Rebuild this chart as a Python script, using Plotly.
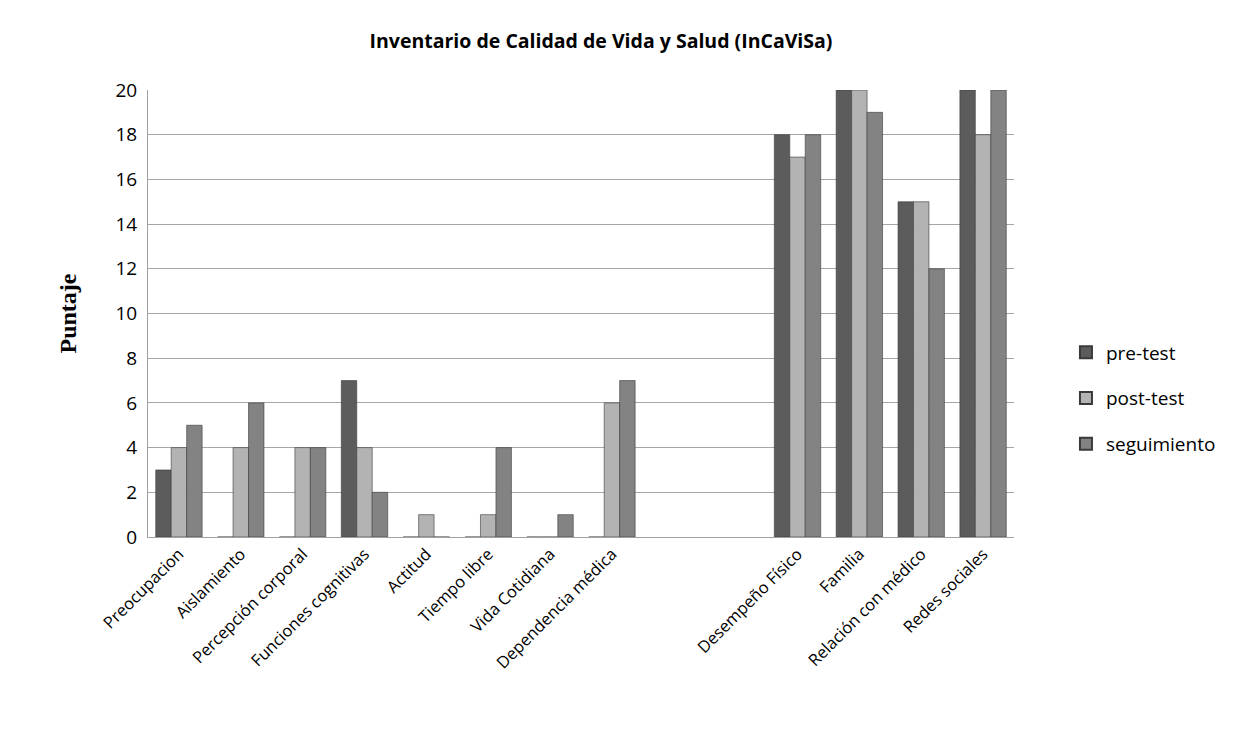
import plotly.graph_objects as go

categories = ["Preocupacion", "Aislamiento", "Percepción corporal", "Funciones cognitivas",
              "Actitud", "Tiempo libre", "Vida Cotidiana", "Dependencia médica",
              " ", "  ",
              "Desempeño Físico", "Familia", "Relación con médico", "Redes sociales"]
pre_test = [3, 0, 0, 7, 0, 0, 0, 0, None, None, 18, 20, 15, 20]
post_test = [4, 4, 4, 4, 1, 1, 0, 6, None, None, 17, 20, 15, 18]
seguimiento = [5, 6, 4, 2, 0, 4, 1, 7, None, None, 18, 19, 12, 20]
series_names = ["pre-test", "post-test", "seguimiento"]
colors = ["#5c5c5c", "#b3b3b3", "#838383"]
y_ticks = list(range(0, 21, 2))

fig = go.Figure()
for name, vals, col in zip(series_names, [pre_test, post_test, seguimiento], colors):
    fig.add_trace(go.Bar(
        name=name, x=categories, y=vals, legendgroup=name,
        marker=dict(color=col, line=dict(color="#3a3a3a", width=0.6)),
    ))

font_fam = "Open Sans, Lato, sans-serif"
fig.update_layout(
    width=1238, height=731,
    paper_bgcolor="white", plot_bgcolor="white",
    barmode="group", bargap=0.25, bargroupgap=0.0,
    margin=dict(l=140, r=232, t=82, b=202),
    title=dict(text="<b>Inventario de Calidad de Vida y Salud (InCaViSa)</b>",
               x=0.479, xanchor="center", y=0.955, yanchor="middle",
               font=dict(family=font_fam, size=19.5, color="black")),
    font=dict(family=font_fam, size=17, color="black"),
    legend=dict(x=1.06, y=0.31, xanchor="left", yanchor="middle",
                font=dict(size=19), itemsizing="constant", tracegroupgap=18,
                bgcolor="rgba(0,0,0,0)"),
    showlegend=True,
)
fig.update_xaxes(
    type="category", categoryorder="array", categoryarray=categories,
    tickangle=-45, tickfont=dict(size=16.5), showline=True,
    linecolor="#a0a0a0", linewidth=1, ticks="", showgrid=False,
)
fig.update_yaxes(
    range=[0, 20], tickvals=y_ticks, tickfont=dict(size=19),
    showgrid=True, gridcolor="#a6a6a6", gridwidth=1.2,
    showline=True, linecolor="#a0a0a0", linewidth=1, zeroline=False,
    ticks="outside", ticklen=6, tickcolor="rgba(0,0,0,0)",
    title=dict(text="<b>Puntaje</b>", font=dict(family="Liberation Serif, Times New Roman, serif", size=24),
               standoff=32),
)
fig.write_html("out.html")
